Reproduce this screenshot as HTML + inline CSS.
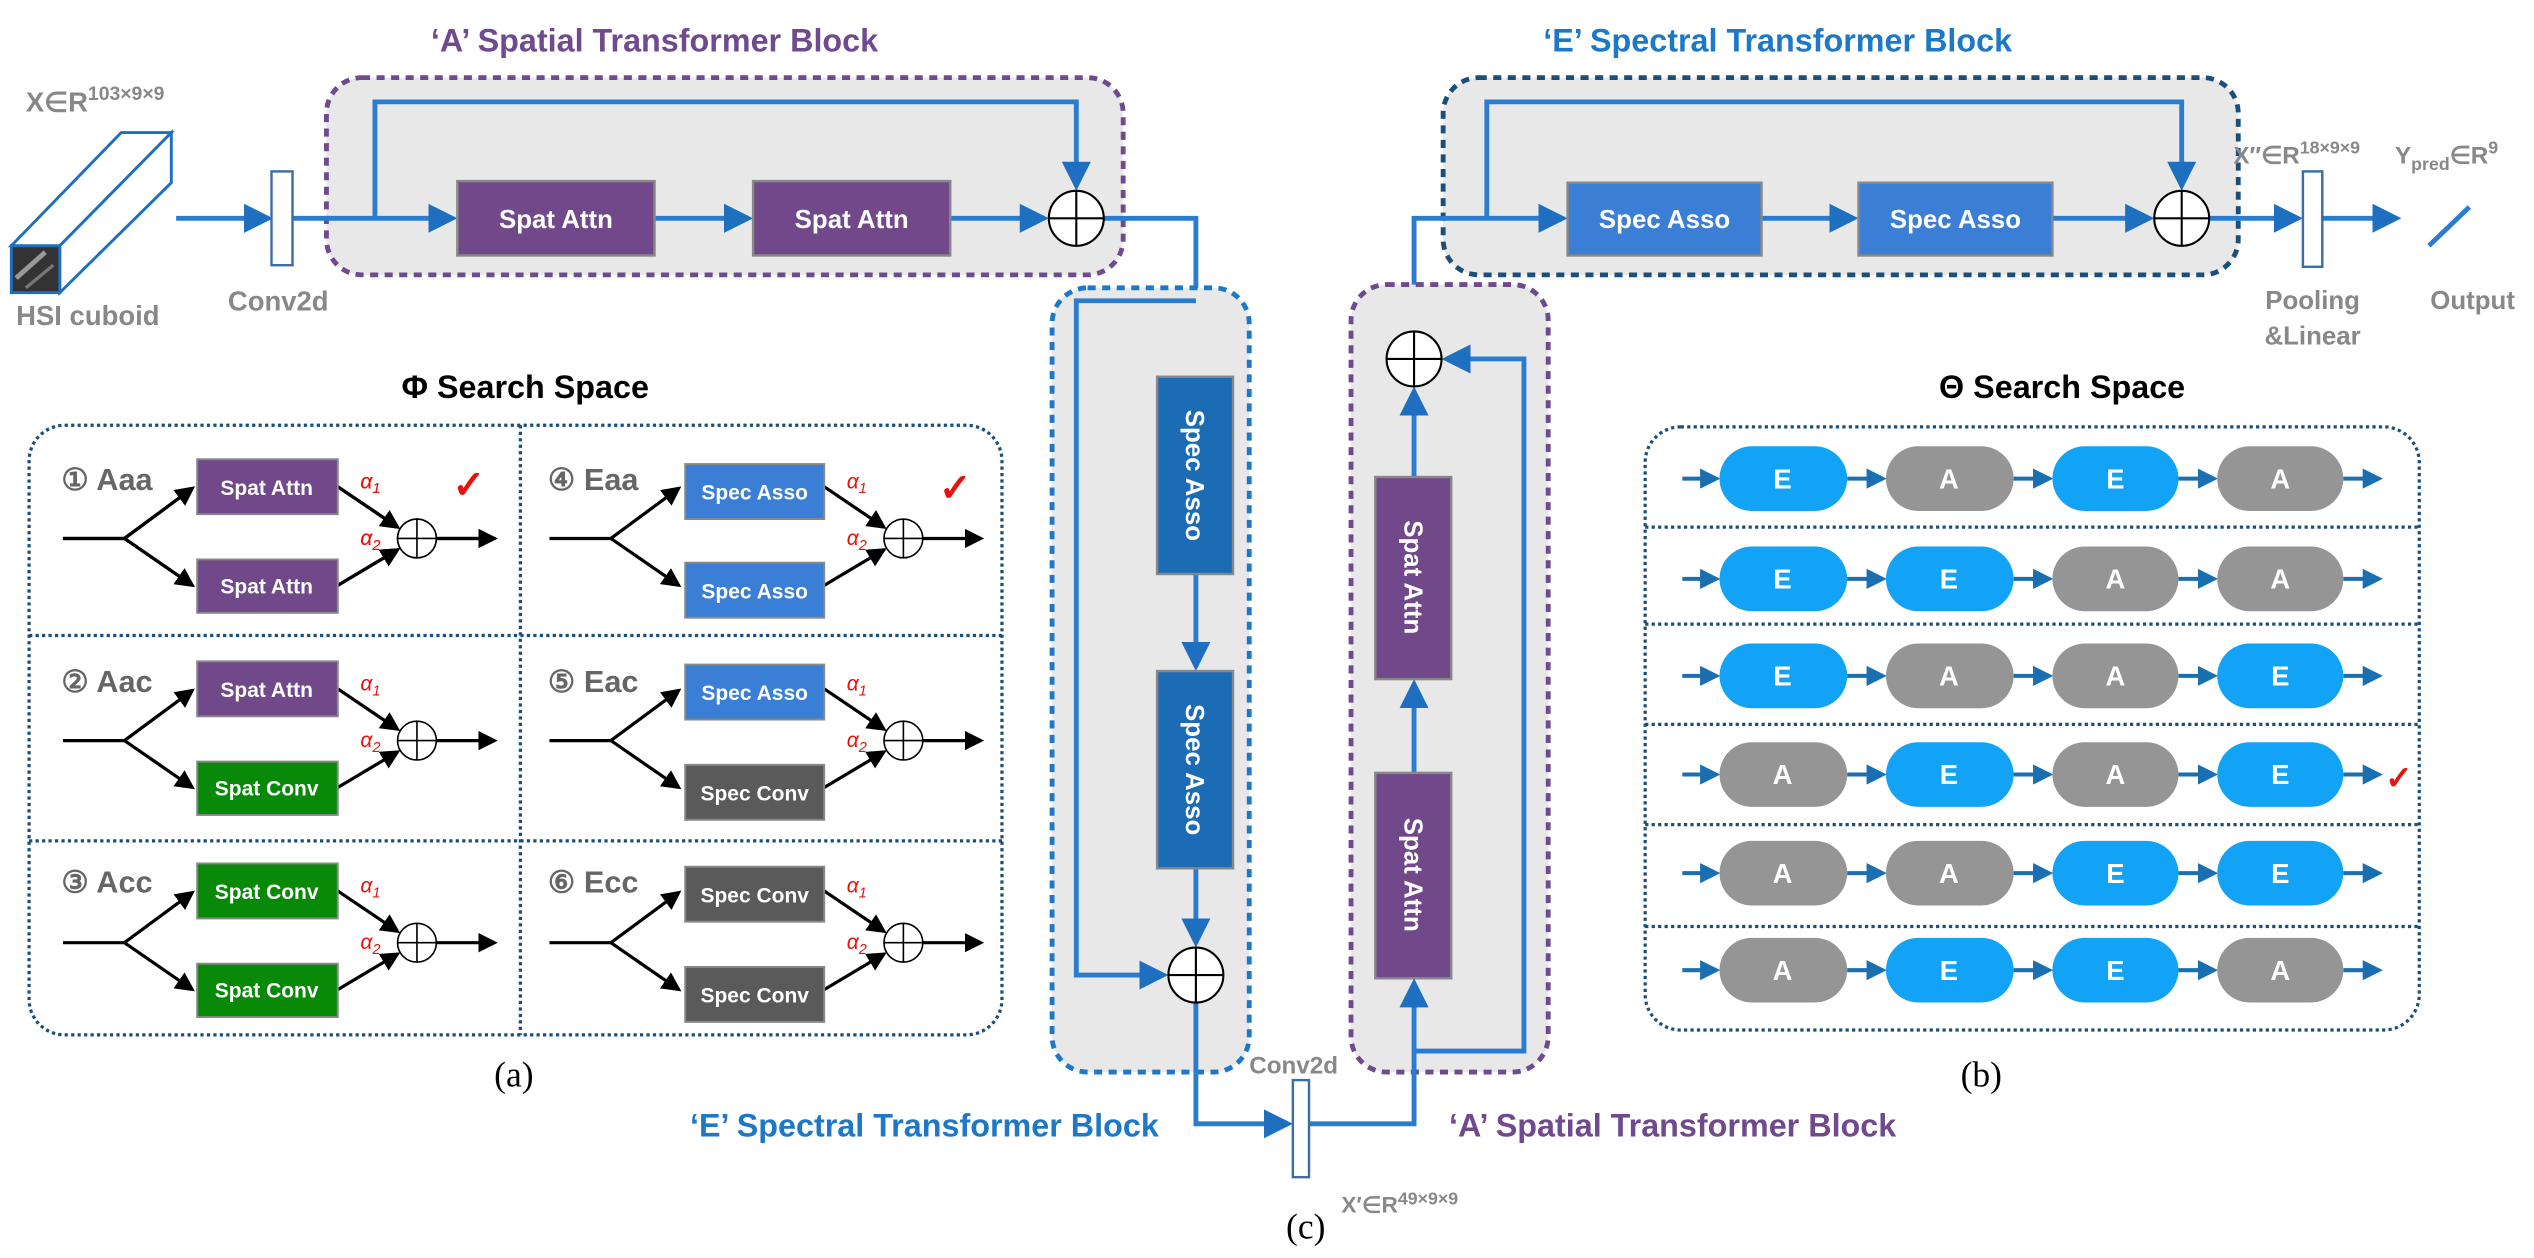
<!DOCTYPE html>
<html><head><meta charset="utf-8"><style>
html,body{margin:0;padding:0;background:#fff;}
svg{display:block;}
text{font-family:"Liberation Sans",sans-serif;}
</style></head><body>
<svg width="2534" height="1258" viewBox="0 0 1568 778" preserveAspectRatio="none" xmlns="http://www.w3.org/2000/svg">
<defs>
<marker id="ab" markerWidth="6" markerHeight="6" refX="5" refY="3" orient="auto" markerUnits="strokeWidth"><path d="M0,0 L6,3 L0,6 z" fill="#1f6fc0"/></marker>
<marker id="ak" markerWidth="6" markerHeight="6" refX="5" refY="3" orient="auto" markerUnits="strokeWidth"><path d="M0,0 L6,3 L0,6 z" fill="#000"/></marker>
<marker id="as" markerWidth="5" markerHeight="5" refX="4" refY="2.5" orient="auto" markerUnits="strokeWidth"><path d="M0,0 L5,2.5 L0,5 z" fill="#1a6fb0"/></marker>
<g id="oplus"><circle cx="0" cy="0" r="17" fill="#fff" stroke="#000" stroke-width="1.3"/><line x1="-17" y1="0" x2="17" y2="0" stroke="#000" stroke-width="1.3"/><line x1="0" y1="-17" x2="0" y2="17" stroke="#000" stroke-width="1.3"/></g>
<g id="op2"><circle cx="0" cy="0" r="12" fill="#fff" stroke="#000" stroke-width="1"/><line x1="-12" y1="0" x2="12" y2="0" stroke="#000" stroke-width="1"/><line x1="0" y1="-12" x2="0" y2="12" stroke="#000" stroke-width="1"/></g>
</defs>

<!-- ===== Top-left A block ===== -->
<text x="405" y="32" text-anchor="middle" font-size="20" font-weight="bold" fill="#6f4a8e">‘A’ Spatial Transformer Block</text>
<rect x="202" y="48" width="493" height="122" rx="22" fill="#e8e8e8" stroke="#6f4a8e" stroke-width="3" stroke-dasharray="5,4"/>
<!-- cuboid -->
<g stroke="#1f6fc0" stroke-width="1.8" fill="#fff">
<polygon points="7,152 75,82 106,82 37,152"/>
<polygon points="37,152 106,82 106,113 37,181"/>
<rect x="7" y="152" width="30" height="29" fill="#333"/>
</g>
<line x1="10" y1="172" x2="28" y2="156" stroke="#999" stroke-width="3"/>
<line x1="16" y1="178" x2="33" y2="164" stroke="#777" stroke-width="2"/>
<text x="16" y="69" font-size="17" font-weight="bold" fill="#888">X∈R<tspan font-size="12" dy="-7">103×9×9</tspan></text>
<text x="10" y="201" font-size="17" font-weight="bold" fill="#888">HSI cuboid</text>
<text x="141" y="192" font-size="17" font-weight="bold" fill="#888">Conv2d</text>

<g stroke="#2b7bcf" stroke-width="3" fill="none">
<line x1="109" y1="135" x2="166" y2="135" marker-end="url(#ab)"/>
<line x1="181" y1="135" x2="280" y2="135" marker-end="url(#ab)"/>
<polyline points="232,135 232,63 666,63 666,115" marker-end="url(#ab)"/>
<line x1="405" y1="135" x2="463" y2="135" marker-end="url(#ab)"/>
<line x1="588" y1="135" x2="646" y2="135" marker-end="url(#ab)"/>
<polyline points="683,135 740,135 740,230" marker-end="url(#ab)"/>
</g>
<rect x="168" y="106" width="13" height="58" fill="#fff" stroke="#3a6ea5" stroke-width="1.5"/>
<rect x="283" y="112" width="122" height="46" fill="#71498b" stroke="#888" stroke-width="1.5"/>
<text x="344" y="141" text-anchor="middle" font-size="16" font-weight="bold" fill="#fff">Spat Attn</text>
<rect x="466" y="112" width="122" height="46" fill="#71498b" stroke="#888" stroke-width="1.5"/>
<text x="527" y="141" text-anchor="middle" font-size="16" font-weight="bold" fill="#fff">Spat Attn</text>
<use href="#oplus" x="666" y="135"/>

<!-- ===== Top-right E block ===== -->
<text x="1100" y="32" text-anchor="middle" font-size="20" font-weight="bold" fill="#1e78c8">‘E’ Spectral Transformer Block</text>
<rect x="893" y="48" width="492" height="122" rx="22" fill="#e8e8e8" stroke="#1b4f7a" stroke-width="3" stroke-dasharray="5,4"/>
<g stroke="#2b7bcf" stroke-width="3" fill="none">
<polyline points="875,205 875,135 967,135" marker-end="url(#ab)"/>
<polyline points="920,135 920,63 1350,63 1350,115" marker-end="url(#ab)"/>
<line x1="1090" y1="135" x2="1147" y2="135" marker-end="url(#ab)"/>
<line x1="1270" y1="135" x2="1330" y2="135" marker-end="url(#ab)"/>
<line x1="1367" y1="135" x2="1422" y2="135" marker-end="url(#ab)"/>
<line x1="1437" y1="135" x2="1483" y2="135" marker-end="url(#ab)"/>
<line x1="1503" y1="152" x2="1528" y2="128"/>
</g>
<rect x="970" y="113" width="120" height="45" fill="#3a7fd5" stroke="#888" stroke-width="1.5"/>
<text x="1030" y="141" text-anchor="middle" font-size="16" font-weight="bold" fill="#fff">Spec Asso</text>
<rect x="1150" y="113" width="120" height="45" fill="#3a7fd5" stroke="#888" stroke-width="1.5"/>
<text x="1210" y="141" text-anchor="middle" font-size="16" font-weight="bold" fill="#fff">Spec Asso</text>
<use href="#oplus" x="1350" y="135"/>
<rect x="1425" y="106" width="12" height="59" fill="#fff" stroke="#3a6ea5" stroke-width="1.5"/>
<text x="1382" y="101" font-size="15" font-weight="bold" fill="#888">X″∈R<tspan font-size="11" dy="-6">18×9×9</tspan></text>
<text x="1482" y="101" font-size="15" font-weight="bold" fill="#888">Y<tspan font-size="11" dy="4">pred</tspan><tspan dy="-4">∈R</tspan><tspan font-size="11" dy="-6">9</tspan></text>
<text x="1431" y="191" text-anchor="middle" font-size="16" font-weight="bold" fill="#888">Pooling</text>
<text x="1431" y="213" text-anchor="middle" font-size="16" font-weight="bold" fill="#888">&amp;Linear</text>
<text x="1530" y="191" text-anchor="middle" font-size="16" font-weight="bold" fill="#888">Output</text>

<!-- ===== Middle column ===== -->
<rect x="651" y="178" width="122" height="485" rx="22" fill="#e8e8e8" stroke="#1e78c8" stroke-width="3" stroke-dasharray="5,4"/>
<rect x="836" y="176" width="122" height="487" rx="22" fill="#e8e8e8" stroke="#6f4a8e" stroke-width="3" stroke-dasharray="5,4"/>
<g stroke="#2b7bcf" stroke-width="3" fill="none">
<line x1="740" y1="355" x2="740" y2="412" marker-end="url(#ab)"/>
<line x1="740" y1="537" x2="740" y2="583" marker-end="url(#ab)"/>
<polyline points="740,186 666,186 666,603 720,603" marker-end="url(#ab)"/>
<polyline points="740,620 740,695 797,695" marker-end="url(#ab)"/>
<polyline points="810,695 875,695 875,608" marker-end="url(#ab)"/>
<line x1="875" y1="478" x2="875" y2="423" marker-end="url(#ab)"/>
<line x1="875" y1="295" x2="875" y2="242" marker-end="url(#ab)"/>
<polyline points="875,650 943,650 943,222 895,222" marker-end="url(#ab)"/>
</g>
<rect x="716" y="233" width="47" height="122" fill="#1c6bb5" stroke="#888" stroke-width="1.5"/>
<text transform="translate(734,294) rotate(90)" text-anchor="middle" font-size="16" font-weight="bold" fill="#fff">Spec Asso</text>
<rect x="716" y="415" width="47" height="122" fill="#1c6bb5" stroke="#888" stroke-width="1.5"/>
<text transform="translate(734,476) rotate(90)" text-anchor="middle" font-size="16" font-weight="bold" fill="#fff">Spec Asso</text>
<use href="#oplus" x="740" y="603"/>
<rect x="851" y="478" width="47" height="127" fill="#71498b" stroke="#888" stroke-width="1.5"/>
<text transform="translate(869,541) rotate(90)" text-anchor="middle" font-size="16" font-weight="bold" fill="#fff">Spat Attn</text>
<rect x="851" y="295" width="47" height="125" fill="#71498b" stroke="#888" stroke-width="1.5"/>
<text transform="translate(869,357) rotate(90)" text-anchor="middle" font-size="16" font-weight="bold" fill="#fff">Spat Attn</text>
<use href="#oplus" x="875" y="222"/>
<rect x="800" y="668" width="10" height="60" fill="#fff" stroke="#3a6ea5" stroke-width="1.5"/>
<text x="773" y="664" font-size="15" font-weight="bold" fill="#888">Conv2d</text>
<text x="830" y="750" font-size="14" font-weight="bold" fill="#888">X′∈R<tspan font-size="11" dy="-5">49×9×9</tspan></text>
<text x="572" y="703" text-anchor="middle" font-size="20" font-weight="bold" fill="#1e78c8">‘E’ Spectral Transformer Block</text>
<text x="1035" y="703" text-anchor="middle" font-size="20" font-weight="bold" fill="#6f4a8e">‘A’ Spatial Transformer Block</text>
<text x="808" y="766" text-anchor="middle" font-size="22" style="font-family:'Liberation Serif',serif">(c)</text>
<text x="318" y="672" text-anchor="middle" font-size="22" style="font-family:'Liberation Serif',serif">(a)</text>
<text x="1226" y="672" text-anchor="middle" font-size="22" style="font-family:'Liberation Serif',serif">(b)</text>

<!-- ===== Φ search space ===== -->
<text x="325" y="246" text-anchor="middle" font-size="20" font-weight="bold" fill="#000">Φ Search Space</text>
<rect x="18" y="263" width="602" height="377" rx="22" fill="none" stroke="#1b4f7a" stroke-width="2" stroke-dasharray="2,2"/>
<g stroke="#1b4f7a" stroke-width="2" stroke-dasharray="2,2">
<line x1="322" y1="263" x2="322" y2="640"/>
<line x1="18" y1="393" x2="620" y2="393"/>
<line x1="18" y1="520" x2="620" y2="520"/>
</g>

<g id="cellL">
<g stroke="#000" stroke-width="2" fill="none">
<line x1="39" y1="333" x2="77" y2="333"/>
<line x1="77" y1="333" x2="119" y2="302" marker-end="url(#ak)"/>
<line x1="77" y1="333" x2="119" y2="362" marker-end="url(#ak)"/>
<line x1="209" y1="301" x2="246" y2="326" marker-end="url(#ak)"/>
<line x1="209" y1="362" x2="246" y2="340" marker-end="url(#ak)"/>
<line x1="270" y1="333" x2="306" y2="333" marker-end="url(#ak)"/>
</g>
<use href="#op2" x="258" y="333"/>
<text x="223" y="302" font-size="13" font-style="italic" fill="#e8120c">α<tspan font-size="9" dy="3">1</tspan></text>
<text x="223" y="337" font-size="13" font-style="italic" fill="#e8120c">α<tspan font-size="9" dy="3">2</tspan></text>
</g>
<use href="#cellL" x="0" y="0"/>
<use href="#cellL" x="0" y="125"/>
<use href="#cellL" x="0" y="250"/>
<use href="#cellL" x="301" y="0"/>
<use href="#cellL" x="301" y="125"/>
<use href="#cellL" x="301" y="250"/>

<g font-size="19" font-weight="bold" fill="#666">
<text x="38" y="303">① Aaa</text><text x="38" y="428">② Aac</text><text x="38" y="552">③ Acc</text>
<text x="339" y="303">④ Eaa</text><text x="339" y="428">⑤ Eac</text><text x="339" y="552">⑥ Ecc</text>
</g>
<g stroke="#888" stroke-width="1.2">
<rect x="122" y="284" width="87" height="34" fill="#71498b"/>
<rect x="122" y="346" width="87" height="33" fill="#71498b"/>
<rect x="122" y="409" width="87" height="34" fill="#71498b"/>
<rect x="122" y="471" width="87" height="33" fill="#088a08"/>
<rect x="122" y="534" width="87" height="34" fill="#088a08"/>
<rect x="122" y="596" width="87" height="33" fill="#088a08"/>
<rect x="424" y="287" width="86" height="34" fill="#3a7fd5"/>
<rect x="424" y="348" width="86" height="34" fill="#3a7fd5"/>
<rect x="424" y="411" width="86" height="34" fill="#3a7fd5"/>
<rect x="424" y="473" width="86" height="34" fill="#5a5a5a"/>
<rect x="424" y="536" width="86" height="34" fill="#5a5a5a"/>
<rect x="424" y="598" width="86" height="34" fill="#5a5a5a"/>
</g>
<g font-size="13" font-weight="bold" fill="#fff" text-anchor="middle">
<text x="165" y="306">Spat Attn</text><text x="165" y="367">Spat Attn</text>
<text x="165" y="431">Spat Attn</text><text x="165" y="492">Spat Conv</text>
<text x="165" y="556">Spat Conv</text><text x="165" y="617">Spat Conv</text>
<text x="467" y="309">Spec Asso</text><text x="467" y="370">Spec Asso</text>
<text x="467" y="433">Spec Asso</text><text x="467" y="495">Spec Conv</text>
<text x="467" y="558">Spec Conv</text><text x="467" y="620">Spec Conv</text>
</g>
<g fill="#e8120c" font-size="24" font-weight="bold">
<text x="280" y="308">✓</text><text x="581" y="310">✓</text>
</g>

<!-- ===== Θ search space ===== -->
<text x="1276" y="246" text-anchor="middle" font-size="20" font-weight="bold" fill="#000">Θ Search Space</text>
<rect x="1018" y="264" width="479" height="373" rx="22" fill="none" stroke="#1b4f7a" stroke-width="2" stroke-dasharray="2,2"/>
<g stroke="#1b4f7a" stroke-width="2" stroke-dasharray="2,2">
<line x1="1018" y1="326" x2="1497" y2="326"/>
<line x1="1018" y1="386" x2="1497" y2="386"/>
<line x1="1018" y1="448" x2="1497" y2="448"/>
<line x1="1018" y1="510" x2="1497" y2="510"/>
<line x1="1018" y1="573" x2="1497" y2="573"/>
</g>
<g id="arrows">
<g stroke="#1a6fb0" stroke-width="2.5">
<line x1="1041" y1="296" x2="1062" y2="296" marker-end="url(#as)"/>
<line x1="1143" y1="296" x2="1165" y2="296" marker-end="url(#as)"/>
<line x1="1246" y1="296" x2="1268" y2="296" marker-end="url(#as)"/>
<line x1="1348" y1="296" x2="1370" y2="296" marker-end="url(#as)"/>
<line x1="1450" y1="296" x2="1472" y2="296" marker-end="url(#as)"/>
</g>
</g>
<use href="#arrows" y="62"/><use href="#arrows" y="122"/><use href="#arrows" y="183"/><use href="#arrows" y="244"/><use href="#arrows" y="304"/>
<g>
<g fill="#12a3f7"><rect x="1064" y="276" width="79" height="40" rx="20"/><rect x="1270" y="276" width="78" height="40" rx="20"/></g>
<g fill="#959595"><rect x="1167" y="276" width="79" height="40" rx="20"/><rect x="1372" y="276" width="78" height="40" rx="20"/></g>
<g fill="#12a3f7"><rect x="1064" y="338" width="79" height="40" rx="20"/><rect x="1167" y="338" width="79" height="40" rx="20"/></g>
<g fill="#959595"><rect x="1270" y="338" width="78" height="40" rx="20"/><rect x="1372" y="338" width="78" height="40" rx="20"/></g>
<g fill="#12a3f7"><rect x="1064" y="398" width="79" height="40" rx="20"/><rect x="1372" y="398" width="78" height="40" rx="20"/></g>
<g fill="#959595"><rect x="1167" y="398" width="79" height="40" rx="20"/><rect x="1270" y="398" width="78" height="40" rx="20"/></g>
<g fill="#959595"><rect x="1064" y="459" width="79" height="40" rx="20"/><rect x="1270" y="459" width="78" height="40" rx="20"/></g>
<g fill="#12a3f7"><rect x="1167" y="459" width="79" height="40" rx="20"/><rect x="1372" y="459" width="78" height="40" rx="20"/></g>
<g fill="#959595"><rect x="1064" y="520" width="79" height="40" rx="20"/><rect x="1167" y="520" width="79" height="40" rx="20"/></g>
<g fill="#12a3f7"><rect x="1270" y="520" width="78" height="40" rx="20"/><rect x="1372" y="520" width="78" height="40" rx="20"/></g>
<g fill="#959595"><rect x="1064" y="580" width="79" height="40" rx="20"/><rect x="1372" y="580" width="78" height="40" rx="20"/></g>
<g fill="#12a3f7"><rect x="1167" y="580" width="79" height="40" rx="20"/><rect x="1270" y="580" width="78" height="40" rx="20"/></g>
</g>
<g font-size="17" font-weight="bold" fill="#fff" text-anchor="middle">
<text x="1103" y="302">E</text><text x="1206" y="302">A</text><text x="1309" y="302">E</text><text x="1411" y="302">A</text>
<text x="1103" y="364">E</text><text x="1206" y="364">E</text><text x="1309" y="364">A</text><text x="1411" y="364">A</text>
<text x="1103" y="424">E</text><text x="1206" y="424">A</text><text x="1309" y="424">A</text><text x="1411" y="424">E</text>
<text x="1103" y="485">A</text><text x="1206" y="485">E</text><text x="1309" y="485">A</text><text x="1411" y="485">E</text>
<text x="1103" y="546">A</text><text x="1206" y="546">A</text><text x="1309" y="546">E</text><text x="1411" y="546">E</text>
<text x="1103" y="606">A</text><text x="1206" y="606">E</text><text x="1309" y="606">E</text><text x="1411" y="606">A</text>
</g>
<text x="1476" y="488" font-size="20" font-weight="bold" fill="#e8120c">✓</text>
</svg>
</body></html>
